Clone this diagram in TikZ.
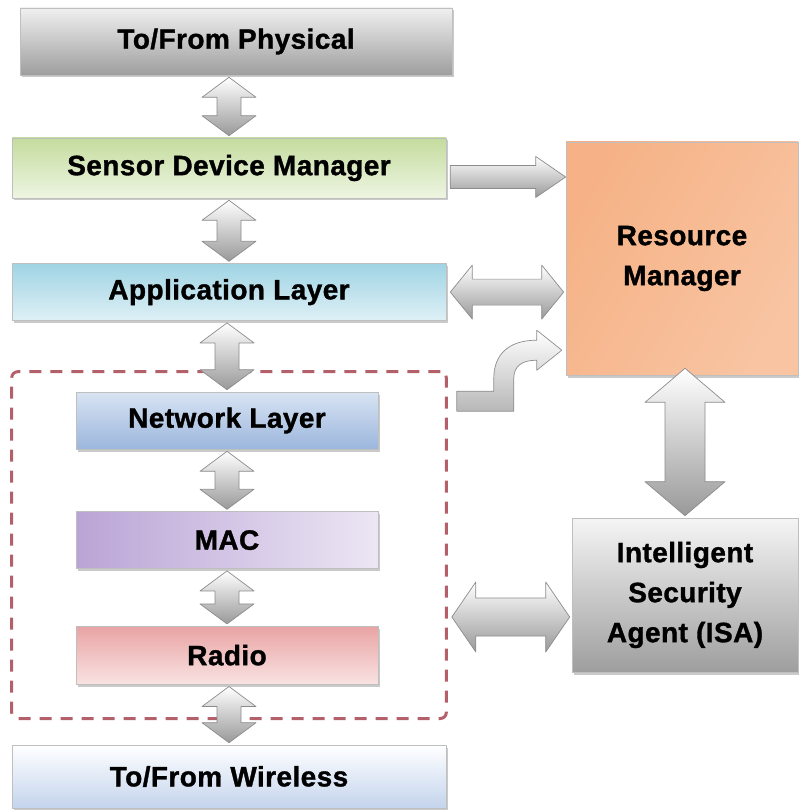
\documentclass[tikz,border=0pt]{standalone}
\usepackage{fontspec}
\setmainfont[LetterSpace=1.5, BoldFeatures={FakeBold=1.2}]{Liberation Sans}
\usetikzlibrary{calc, fit, positioning, shadows}
\definecolor{dashred}{HTML}{B4606A}
\tikzset{
    box/.style={rectangle, draw=black!25, line width=0.6pt, inner sep=0pt, align=center,
        font=\fontsize{28}{40}\selectfont\bfseries,
        drop shadow={shadow xshift=1.5pt, shadow yshift=-2.5pt, opacity=0.35, fill=black!60}},
    layer/.style={box, minimum width=434pt, minimum height=60pt},
    sublayer/.style={box, minimum width=302pt, minimum height=57pt},
    blockarrow/.style={draw=black!45, line width=0.7pt, top color=white, bottom color=black!40, line join=round},
    frame/.style={draw=dashred, line width=3pt, dash pattern=on 12pt off 9pt, rounded corners=6pt, inner sep=0pt}
}
% block arrows: #1 from, #2 to, #3 half shaft, #4 half head, #5 head length
\newcommand{\vdouble}[5]{%
    \path[blockarrow] let \p1=(#1), \p2=(#2) in
        (\x2,\y1-2pt) -- (\x2+#4,\y1-2pt-#5) -- (\x2+#3,\y1-2pt-#5)
        -- (\x2+#3,\y2+2pt+#5) -- (\x2+#4,\y2+2pt+#5) -- (\x2,\y2+2pt)
        -- (\x2-#4,\y2+2pt+#5) -- (\x2-#3,\y2+2pt+#5) -- (\x2-#3,\y1-2pt-#5)
        -- (\x2-#4,\y1-2pt-#5) -- cycle;}
\newcommand{\hdouble}[5]{%
    \path[blockarrow] let \p1=(#1), \p2=(#2) in
        (\x1+4pt,\y1) -- (\x1+4pt+#5,\y1+#4) -- (\x1+4pt+#5,\y1+#3)
        -- (\x2-2pt-#5,\y1+#3) -- (\x2-2pt-#5,\y1+#4) -- (\x2-2pt,\y1)
        -- (\x2-2pt-#5,\y1-#4) -- (\x2-2pt-#5,\y1-#3) -- (\x1+4pt+#5,\y1-#3)
        -- (\x1+4pt+#5,\y1-#4) -- cycle;}
\newcommand{\hsingle}[5]{%
    \path[blockarrow] let \p1=(#1), \p2=(#2) in
        (\x1+4pt,\y1+#3) -- (\x2-#5,\y1+#3) -- (\x2-#5,\y1+#4) -- (\x2,\y1)
        -- (\x2-#5,\y1-#4) -- (\x2-#5,\y1-#3) -- (\x1+4pt,\y1-#3) -- cycle;}

\begin{document}
\begin{tikzpicture}[x=1pt, y=-1pt]
    \useasboundingbox (0,0) rectangle (798,810);

    \node[layer, top color=white!94!black, bottom color=black!38]   (phys) at (236,41.5) [minimum width=432pt, minimum height=67pt] {To/From Physical};
    \node[layer, top color={rgb,255:red,196;green,220;blue,158}, bottom color={rgb,255:red,238;green,245;blue,226}] (sdm) at (229,168) {Sensor Device Manager};
    \node[layer, top color={rgb,255:red,160;green,212;blue,228}, bottom color={rgb,255:red,222;green,240;blue,246}] (app) [below=65pt of sdm, minimum height=57pt] {Application Layer};

    \node[sublayer, top color={rgb,255:red,216;green,228;blue,243}, bottom color={rgb,255:red,156;green,182;blue,221}] (net) at (227,420.5) {Network Layer};
    \node[sublayer, left color={rgb,255:red,186;green,164;blue,214}, right color={rgb,255:red,236;green,230;blue,244}] (mac) [below=62pt of net] {MAC};
    \node[sublayer, top color={rgb,255:red,233;green,164;blue,164}, bottom color={rgb,255:red,249;green,226;blue,226}] (radio) [below=57pt of mac, minimum height=58pt] {Radio};
    \node[layer, top color=white, bottom color={rgb,255:red,196;green,212;blue,237}] (wireless) at (229,776.5) [minimum height=63pt] {To/From Wireless};

    \node[box, minimum width=232pt, minimum height=233pt, left color={rgb,255:red,246;green,178;blue,134}, middle color={rgb,255:red,253;green,234;blue,222}, right color={rgb,255:red,248;green,196;blue,162}, shading angle=60] (rm) at (682,258.5) {Resource\\Manager};
    \node[box, minimum width=226pt, minimum height=154pt, top color=white!96!black, bottom color=black!38] (isa) at (685,595) {Intelligent\\Security\\Agent (ISA)};

    \node[frame, fit={($(net.north west)+(-64pt,20pt)$) ($(radio.south east)+(68pt,-34pt)$)}] (stack) {};

    % stack arrows
    \vdouble{phys.south}{sdm.north}{12pt}{27pt}{20pt}
    \vdouble{sdm.south}{app.north}{12pt}{27pt}{20pt}
    \vdouble{app.south}{net.north}{12pt}{27pt}{20pt}
    \vdouble{net.south}{mac.north}{12pt}{27pt}{20pt}
    \vdouble{mac.south}{radio.north}{12pt}{27pt}{20pt}
    \vdouble{radio.south}{wireless.north}{12pt}{27pt}{20pt}

    % side arrows
    \hsingle{$(sdm.east)+(0,-9pt)$}{rm.west}{11.5pt}{20.5pt}{30pt}
    \hdouble{app.east}{rm.west}{13pt}{27pt}{22pt}
    \hdouble{$(stack.east |- isa.west)+(0,-22pt)$}{isa.west}{19pt}{35pt}{24pt}
    \vdouble{$(rm.south)+(0,9pt)$}{isa.north}{20pt}{40pt}{34pt}

    % bent arrow from the stack up to the resource manager
    \begin{scope}[shift={(stack.north east)}]
        \path[blockarrow, bottom color=black!28] (9,21) -- (46,21) -- (46,8)
            .. controls (46,-14) and (59,-30) .. (89,-30) -- (89,-40) -- (114,-20)
            -- (89,0) -- (89,-10) .. controls (74,-10) and (66,-4) .. (66,8)
            -- (66,41) -- (9,41) -- cycle;
    \end{scope}
\end{tikzpicture}
\end{document}
